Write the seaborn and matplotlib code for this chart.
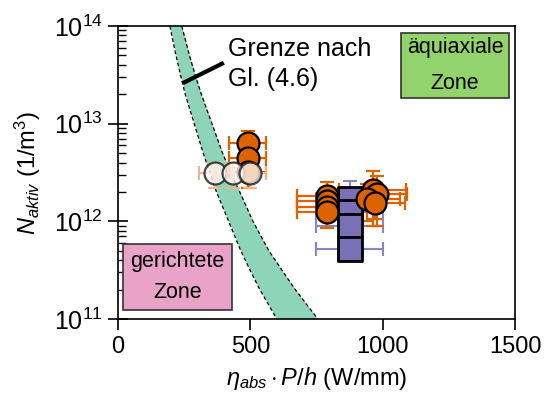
import matplotlib
matplotlib.use("Agg")
import matplotlib.pyplot as plt
from matplotlib.patches import Rectangle
import numpy as np
import pandas as pd
import seaborn as sns

# Boundary band (Gl. 4.6): nucleation density and the two edge positions
band_N = [1e14, 5e13, 3e13, 2e13, 1e13, 5e12, 3e12, 2e12, 1e12, 5e11, 3e11, 2e11, 1e11]
band_left = [196, 219, 238, 254, 288, 322, 350, 372, 418, 464, 503, 536, 600]
band_right = [241, 270, 294, 315, 355, 395, 430, 460, 510, 570, 625, 670, 755]

# Orange measurements
orange_x = [491, 491, 491, 789, 789, 789, 789, 962, 977, 940, 970]
orange_N = [6.3e12, 4.5e12, 3.2e12, 1.8e12, 1.6e12, 1.4e12, 1.25e12,
            2.1e12, 1.9e12, 1.7e12, 1.55e12]
orange_xerr = [70, 70, 70, 114, 114, 114, 114, 128, 115, 124, 115]
orange_Nerr = [2.2e12, 1.2e12, 1.0e12, 0.7e12, 0.4e12, 0.4e12, 0.4e12,
               1.2e12, 1.0e12, 0.7e12, 0.5e12]

# Pale measurements
pale_x = [366, 434, 498]
pale_N = [3.1e12, 3.1e12, 3.1e12]
pale_xerr = [60, 60, 60]
pale_Nerr = [0.9e12, 0.9e12, 0.9e12]

# Purple measurements
purple_x = [875, 875, 875, 875]
purple_N = [1.7e12, 1.25e12, 9.0e11, 5.2e11]
purple_xerr = [125, 125, 125, 125]
purple_Nerr = [0.9e12, 0.3e12, 0.2e12, 0.1e12]

x_ticks = [0, 500, 1000, 1500]

ORANGE = "#dd6200"
PALE_ORANGE = "#f2b48a"
PURPLE = "#7a70b6"
PURPLE_BAR = "#8b83c4"
TEAL = "#8ed4bb"
PINK = "#e9a3c9"
LIME = "#92d36c"

sns.set_theme(style="ticks")
plt.rcParams["font.family"] = ["Liberation Sans", "DejaVu Sans"]
plt.rcParams["mathtext.fontset"] = "custom"
plt.rcParams["mathtext.rm"] = "Liberation Sans"
plt.rcParams["mathtext.it"] = "Liberation Sans:italic"
plt.rcParams["mathtext.bf"] = "Liberation Sans:bold"
plt.rcParams["text.color"] = "black"
plt.rcParams["axes.labelcolor"] = "black"
plt.rcParams["xtick.color"] = "black"
plt.rcParams["ytick.color"] = "black"
plt.rcParams["axes.edgecolor"] = "black"

fig = plt.figure(figsize=(5.47, 4.01), dpi=100)
ax = fig.add_axes([0.2157, 0.2045, 0.7258, 0.7307])

# boundary band with dashed edges
ax.fill_betweenx(band_N, band_left, band_right, color=TEAL, lw=0, zorder=1)
ax.plot(band_left, band_N, color="black", lw=0.9, ls=(0, (3, 2)), zorder=2)
ax.plot(band_right, band_N, color="black", lw=0.9, ls=(0, (3, 2)), zorder=2)

# error bars
ax.errorbar(purple_x, purple_N, xerr=purple_xerr, yerr=purple_Nerr, fmt="none",
            ecolor=PURPLE_BAR, elinewidth=1.5, capsize=5, capthick=1.5, zorder=3)
ax.errorbar(orange_x, orange_N, xerr=orange_xerr, yerr=orange_Nerr, fmt="none",
            ecolor=ORANGE, elinewidth=1.6, capsize=5, capthick=1.6, zorder=4)
ax.errorbar(pale_x, pale_N, xerr=pale_xerr, yerr=pale_Nerr, fmt="none",
            ecolor=PALE_ORANGE, elinewidth=1.4, capsize=5, capthick=1.4, zorder=4)

df_purple = pd.DataFrame({"x": purple_x, "N": purple_N})
df_orange = pd.DataFrame({"x": orange_x, "N": orange_N})
df_pale = pd.DataFrame({"x": pale_x, "N": pale_N})

sns.scatterplot(data=df_purple, x="x", y="N", marker="s", s=290, color=PURPLE,
                edgecolor="black", linewidth=2.0, ax=ax, zorder=5, legend=False)
sns.scatterplot(data=df_orange, x="x", y="N", marker="o", s=250, color=ORANGE,
                edgecolor="black", linewidth=1.6, ax=ax, zorder=6, legend=False)
sns.scatterplot(data=df_pale, x="x", y="N", marker="o", s=250,
                color=(1.0, 0.97, 0.95, 0.78), edgecolor=(0.15, 0.15, 0.15, 0.85),
                linewidth=1.6, ax=ax, zorder=7, legend=False)

ax.set_yscale("log")
ax.set_xlim(0, 1500)
ax.set_ylim(1e11, 1e14)
ax.set_xticks(x_ticks)
ax.set_xticklabels([str(t) for t in x_ticks])

ax.tick_params(axis="y", which="major", direction="inout", length=14, width=1.2,
               labelsize=18, pad=4)
ax.tick_params(axis="y", which="minor", direction="in", length=6, width=1.0)
ax.tick_params(axis="x", which="major", direction="out", length=8, width=1.2,
               labelsize=17, pad=4)
ax.tick_params(axis="x", which="minor", bottom=False)
for sp in ax.spines.values():
    sp.set_linewidth(1.2)

ax.set_xlabel(r"$\eta_{abs}\cdot P/h$ (W/mm)", fontsize=17, labelpad=5)
ax.set_ylabel(r"$N_{aktiv}$ (1/m$^3$)", fontsize=17, labelpad=8)

# annotation for the boundary band
ax.plot([245, 400], [2.6e13, 4.2e13], color="black", lw=3, solid_capstyle="butt", zorder=8)
ax.text(415, 4.9e13, "Grenze nach", fontsize=18, ha="left", va="baseline", zorder=8)
ax.text(415, 2.45e13, "Gl. (4.6)", fontsize=18, ha="left", va="baseline", zorder=8)

# zone labels
ax.add_patch(Rectangle((0.0126, 0.031), 0.2745, 0.225, transform=ax.transAxes,
                       facecolor=PINK, edgecolor="#333333", lw=1.2, zorder=8))
ax.text(0.15, 0.195, "gerichtete", transform=ax.transAxes, fontsize=15.5,
        ha="center", va="center", zorder=9)
ax.text(0.15, 0.089, "Zone", transform=ax.transAxes, fontsize=15.5,
        ha="center", va="center", zorder=9)

ax.add_patch(Rectangle((0.713, 0.754), 0.272, 0.222, transform=ax.transAxes,
                       facecolor=LIME, edgecolor="#333333", lw=1.2, zorder=8))
ax.text(0.849, 0.925, "äquiaxiale", transform=ax.transAxes, fontsize=15.5,
        ha="center", va="center", zorder=9)
ax.text(0.849, 0.805, "Zone", transform=ax.transAxes, fontsize=15.5,
        ha="center", va="center", zorder=9)

fig.savefig("out.png", dpi=100)
